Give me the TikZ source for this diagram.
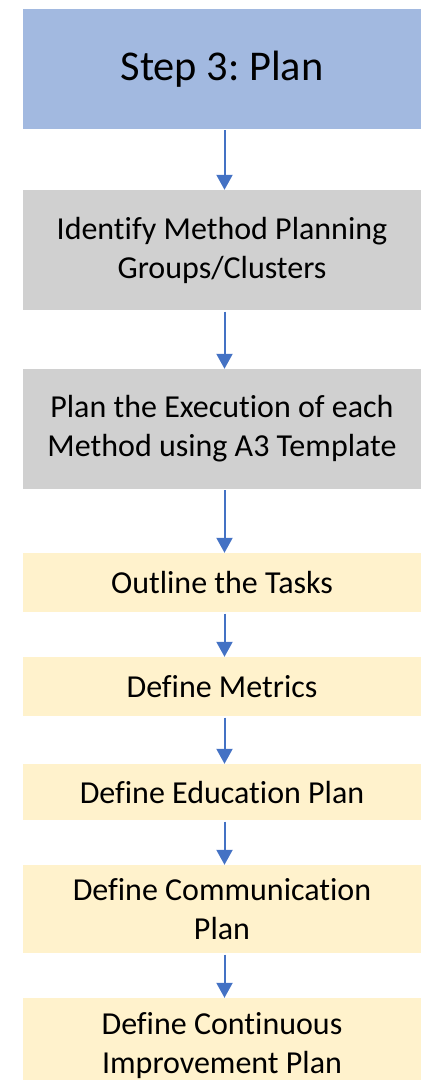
\documentclass[tikz,border=0pt]{standalone}
\usepackage{fontspec}
\setmainfont{Carlito}[Ligatures={NoCommon}]
\frenchspacing
\usetikzlibrary{arrows.meta}
\definecolor{hdrblue}{HTML}{A2B9E0}
\definecolor{boxgray}{HTML}{D0D0D0}
\definecolor{boxyellow}{HTML}{FFF2CC}
\definecolor{arrblue}{HTML}{4472C4}
\tikzset{
  box/.style={rectangle, inner sep=0pt, minimum width=398pt, align=center, text=black,
    font=\fontsize{32}{39}\selectfont},
  hdr/.style={box, fill=hdrblue, font=\fontsize{42.4}{51}\selectfont},
  graybox/.style={box, fill=boxgray},
  yelbox/.style={box, fill=boxyellow},
  flow/.style={draw=arrblue, line width=2pt, -{Triangle[width=16pt,length=15pt]}, shorten <=1.5pt}
}
\begin{document}
\begin{tikzpicture}[x=1pt,y=-1pt]
\useasboundingbox (0,0) rectangle (435,1080);
\clip (0,0) rectangle (435,1080);
\node[hdr, minimum height=119.7pt] (n1) at (222,68.85) {Step 3: Plan};
\node[graybox, minimum height=120pt] (n2) at (222,250) {Identify Method Planning\\Groups/Clusters};
\node[graybox, minimum height=119.7pt] (n3) at (222,428.85) {Plan the Execution of each\\Method using A3 Template};
\node[yelbox, minimum height=59pt] (n4) at (222,582.5) {Outline the Tasks};
\node[yelbox, minimum height=59pt] (n5) at (222,686.5) {Define Metrics};
\node[yelbox, minimum height=56pt] (n6) at (222,792) {Define Education Plan};
\node[yelbox, minimum height=88pt] (n7) at (222,909) {Define Communication\\Plan};
\node[yelbox, minimum height=96pt] (n8) at (222,1046) {Define Continuous\\Improvement Plan};
\foreach \a/\b in {n1/n2,n2/n3,n3/n4,n4/n5,n5/n6,n6/n7,n7/n8}
  \draw[flow] ([xshift=2.5pt]\a.south) -- ([xshift=2.5pt]\b.north);
\end{tikzpicture}
\end{document}
